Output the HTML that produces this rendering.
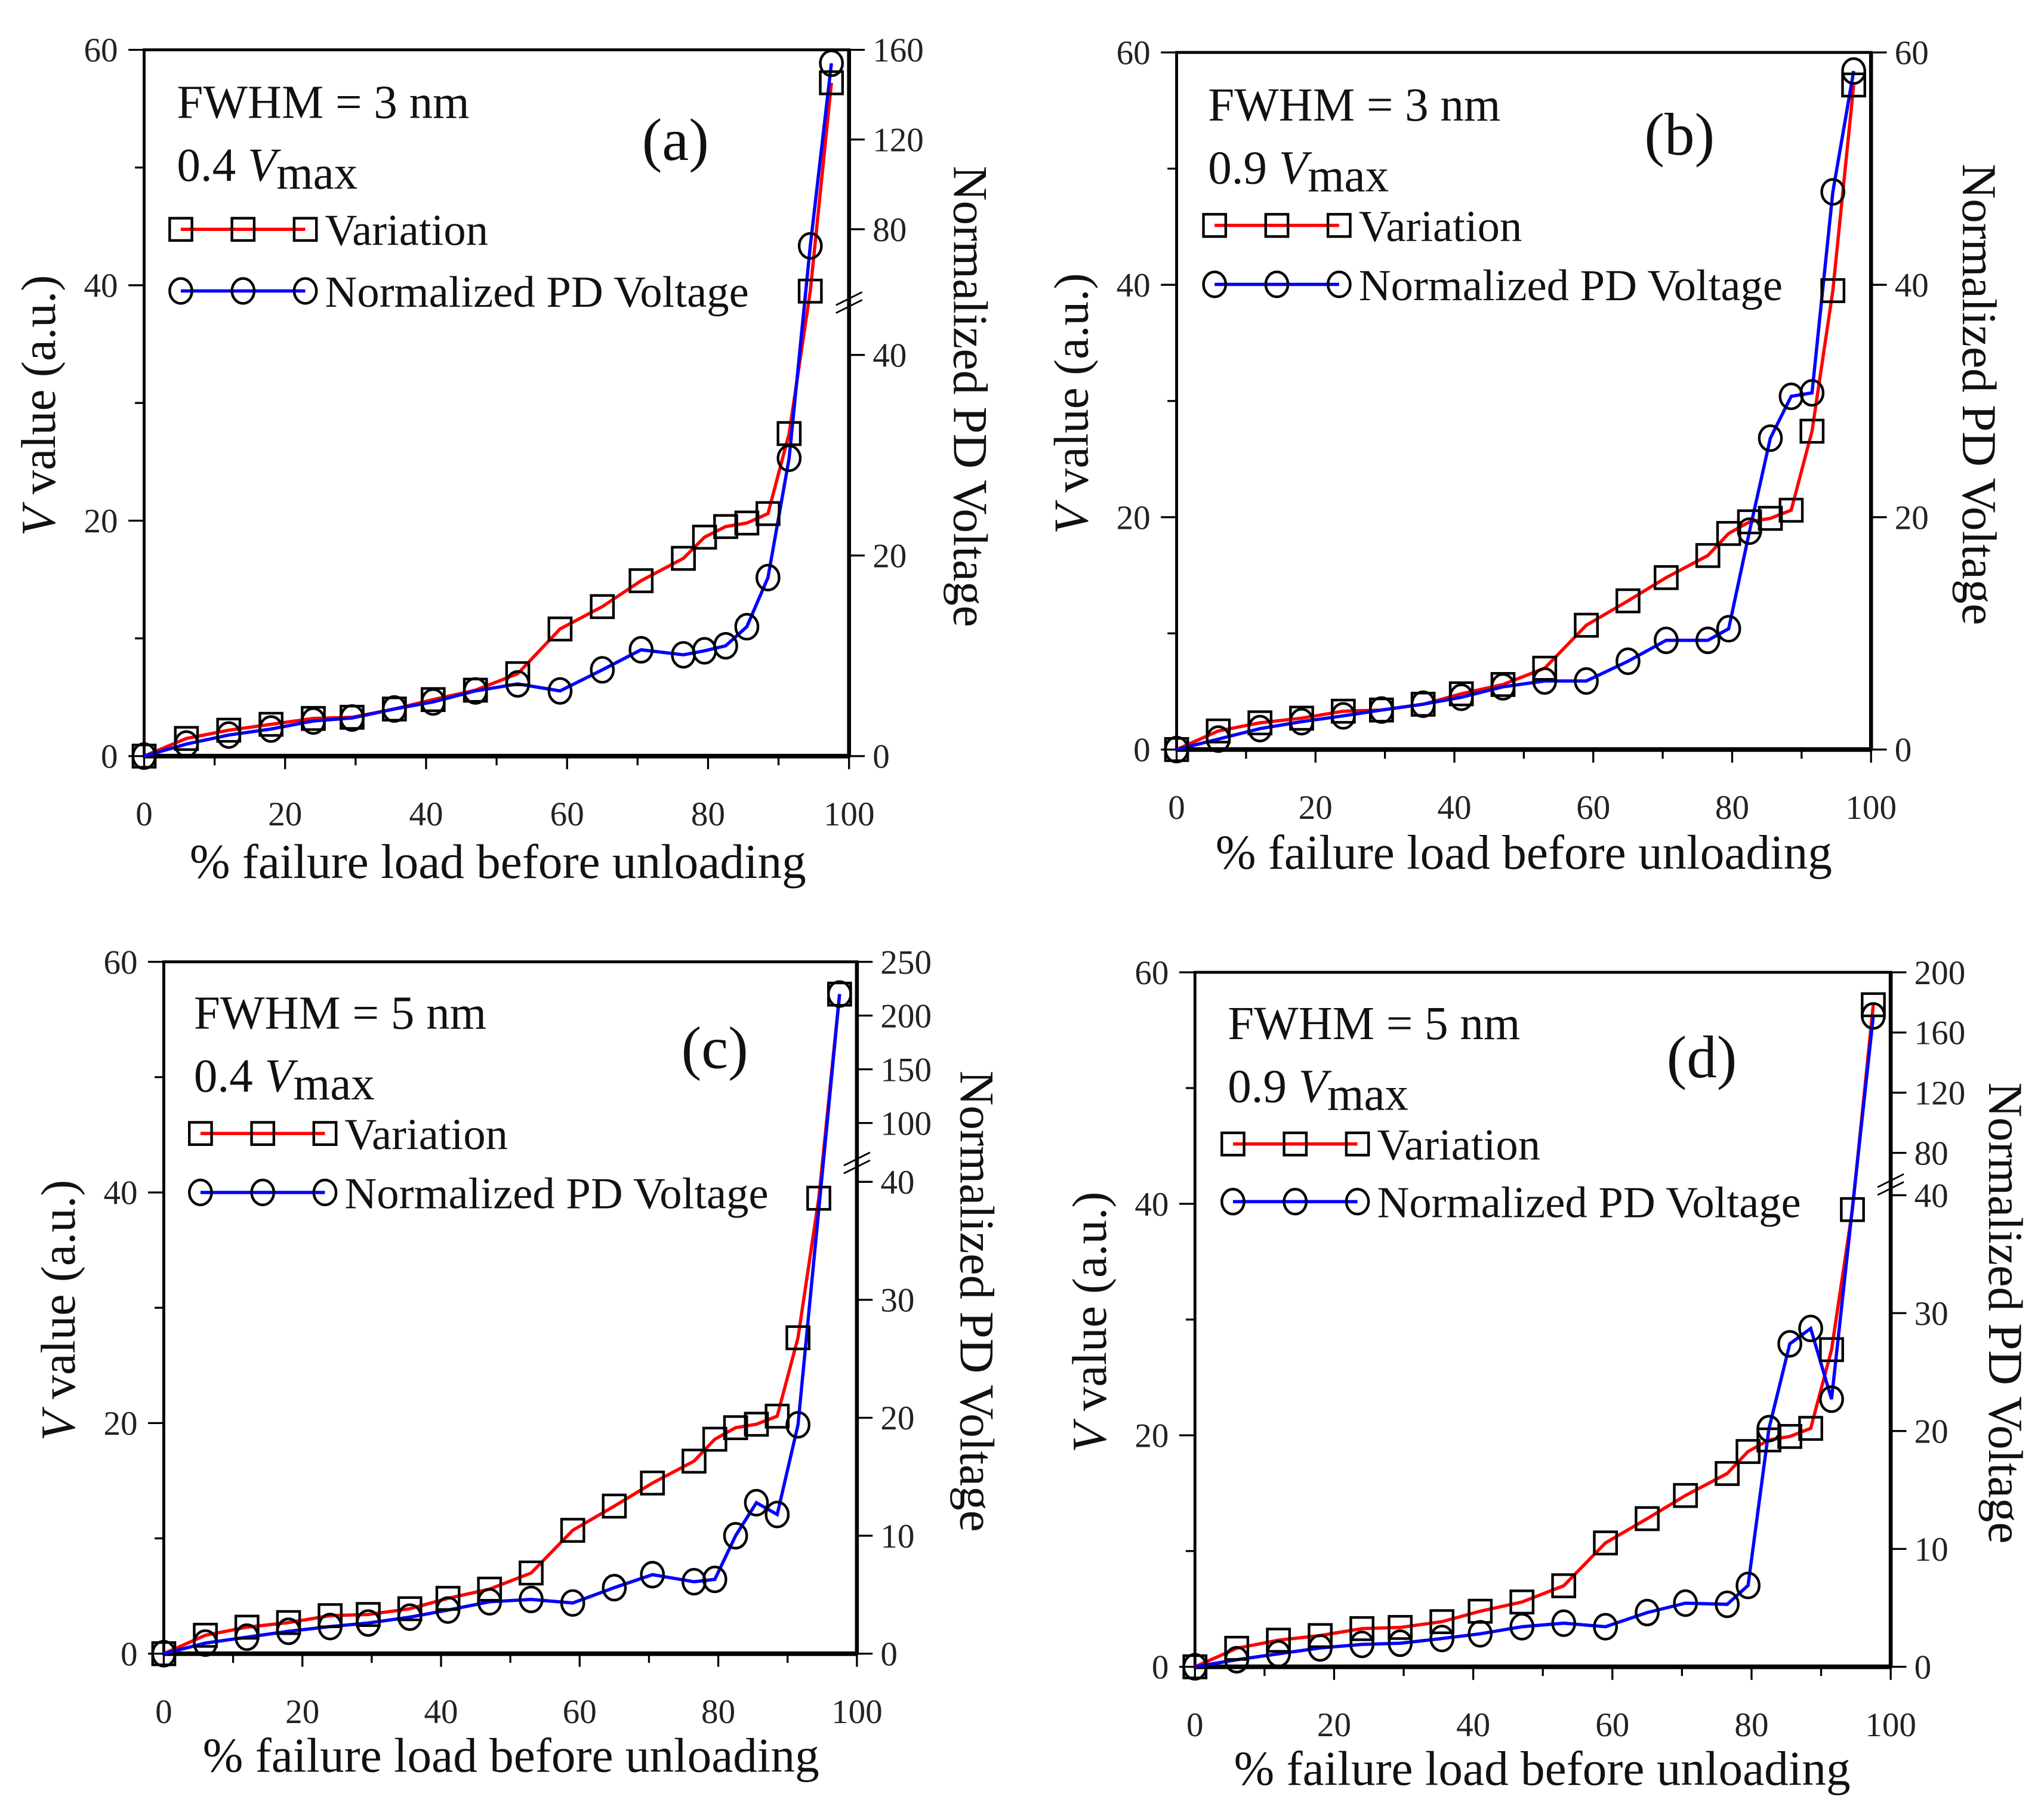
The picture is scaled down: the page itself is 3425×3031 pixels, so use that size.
<!DOCTYPE html>
<html><head><meta charset="utf-8"><style>
html,body{margin:0;padding:0;background:#fff;overflow:hidden;}
svg{display:block;font-family:"Liberation Serif",serif;}
</style></head><body>
<svg id="fig" xmlns="http://www.w3.org/2000/svg" width="3425" height="3031" viewBox="0 0 1560 1380.5"></svg>
<script>
// Shared x categories (% failure load)
const xVals = [0,6,12,18,24,29.5,35.5,41,47,53,59,65,70.5,76.5,79.5,82.5,85.5,88.5,91.5,94.5,97.5];
// Variation (left axis, V value)
const variationA = [0,1.5,2.2,2.7,3.2,3.3,4,4.8,5.6,7,10.8,12.7,14.9,16.8,18.6,19.5,19.8,20.6,27.4,39.5,57.2];
const variationB = [0,1.6,2.3,2.7,3.3,3.4,3.9,4.8,5.6,7,10.7,12.8,14.8,16.7,18.6,19.6,19.9,20.6,27.4,39.5,57.2];
const variationC = [0,1.6,2.3,2.7,3.3,3.4,3.9,4.8,5.6,7,10.7,12.8,14.8,16.7,18.6,19.6,19.9,20.6,27.4,39.5,57.2];
const variationD = [0,1.6,2.3,2.7,3.3,3.4,3.9,4.8,5.6,7,10.7,12.8,14.8,16.7,18.6,19.6,19.9,20.6,27.4,39.5,57.2];
// Normalized PD voltage (right axis)
const pdA = [0,1.2,2.1,2.7,3.5,3.8,4.7,5.4,6.5,7.2,6.5,8.6,10.6,10.1,10.5,11.0,12.9,17.8,29.7,74.7,154];
const pdB = [0,0.9,1.8,2.4,2.9,3.4,3.9,4.5,5.4,5.9,5.9,7.6,9.4,9.4,10.4,18.8,26.8,30.4,30.7,48,58.4];
const pdC = [0,0.9,1.4,1.9,2.3,2.6,3.1,3.7,4.4,4.6,4.3,5.6,6.7,6.1,6.3,10,12.8,11.8,19.4,null,220];
const pdD = [0,0.6,1.1,1.6,1.9,2,2.4,2.8,3.4,3.7,3.4,4.6,5.4,5.3,6.9,20.2,27.4,28.7,22.7,null,171];
// Tick labels
const xTicks = [0,20,40,60,80,100];
const leftTicks = [0,20,40,60];
const rightTicksA = [0,20,40,80,120,160];
const rightTicksB = [0,20,40,60];
const rightTicksC = [0,10,20,30,40,100,150,200,250];
const rightTicksD = [0,10,20,30,40,80,120,160,200];
// Right-axis piecewise breakpoints (values)
const rightBreaksA = [0,40,80,160];
const rightBreaksB = [0,60];
const rightBreaksC = [0,40,100,250];
const rightBreaksD = [0,40,80,200];

const NS = "http://www.w3.org/2000/svg";
const svg = document.getElementById('fig');
function mk(tag, attrs, parent){
  const e = document.createElementNS(NS, tag);
  for (const k in attrs) e.setAttribute(k, attrs[k]);
  (parent||svg).appendChild(e);
  return e;
}

const panels = [
 {id:'a', L:110,R:648,T:38,B:577, rFrac:[0,0.568,0.746,1], vari:variationA, pd:pdA, rt:rightTicksA, rb:rightBreaksA, brk:true,
  fw:'FWHM = 3 nm', vm:'0.4', tx:135, ty:90, lx:138, ly1:175, ly2:222, pl:'(a)', plx:490, ply:122,
  ytx:30, xtx:380, xty:670, rtx:740},
 {id:'b', L:898,R:1428,T:40,B:572, rFrac:[0,1], vari:variationB, pd:pdB, rt:rightTicksB, rb:rightBreaksB, brk:false,
  fw:'FWHM = 3 nm', vm:'0.9', tx:922, ty:92, lx:927, ly1:172, ly2:217, pl:'(b)', plx:1255, ply:118,
  ytx:818, xtx:1163, xty:663, rtx:1510},
 {id:'c', L:125,R:654,T:734,B:1262, rFrac:[0,0.682,0.767,1], vari:variationC, pd:pdC, rt:rightTicksC, rb:rightBreaksC, brk:true,
  fw:'FWHM = 5 nm', vm:'0.4', tx:148, ty:785, lx:153, ly1:865, ly2:910, pl:'(c)', plx:520, ply:815,
  ytx:45, xtx:390, xty:1352, rtx:745},
 {id:'d', L:912,R:1443,T:742,B:1272, rFrac:[0,0.679,0.740,1], vari:variationD, pd:pdD, rt:rightTicksD, rb:rightBreaksD, brk:true,
  fw:'FWHM = 5 nm', vm:'0.9', tx:937, ty:793, lx:941, ly1:873, ly2:917, pl:'(d)', plx:1272, ply:822,
  ytx:832, xtx:1177, xty:1362, rtx:1530}
];

function square(g,x,y){
  const s = mk('rect',{x:x-8.5,y:y-8.5,width:17,height:17,fill:'none',stroke:'#000','stroke-width':2},g);
  
  
}
function circ(g,x,y){
  const c = mk('ellipse',{cx:x,cy:y,rx:8.5,ry:9.5,fill:'none',stroke:'#000','stroke-width':2},g);
  
  
}

panels.forEach(p=>{
  const g = mk('g',{});
  
  
  const H = p.B-p.T;
  const xs = v => p.L + (p.R-p.L)*v/100;
  const yl = v => p.B - H*v/60;
  const yr = v => {
    const b = p.rb;
    let i = 0;
    while (i < b.length-2 && v > b[i+1]) i++;
    const y0 = p.B - H*p.rFrac[i];
    const y1 = p.B - H*p.rFrac[i+1];
    return y0 + (y1-y0)*(v-b[i])/(b[i+1]-b[i]);
  };
  const fr = mk('rect',{x:p.L,y:p.T,width:p.R-p.L,height:H,fill:'none',stroke:'#000','stroke-width':2.2},g);
  
  
  mk('line',{x1:p.L,y1:p.B,x2:p.R,y2:p.B,stroke:'#000','stroke-width':3.5},g);
  mk('line',{x1:p.R,y1:p.T,x2:p.R,y2:p.B,stroke:'#000','stroke-width':3},g);
  for (let v=0; v<=100; v+=10){
    mk('line',{x1:xs(v),y1:p.B,x2:xs(v),y2:p.B+(v%20===0?10:7),stroke:'#000','stroke-width':1.5},g);
  }
  xTicks.forEach(v=>{
    const t = mk('text',{x:xs(v),y:p.B+53,'font-size':26,'text-anchor':'middle',fill:'#222'},g);
    t.textContent = v;
    
    
  });
  for (let v=0; v<=60; v+=10){
    mk('line',{x1:p.L,y1:yl(v),x2:p.L-(v%20===0?12:7),y2:yl(v),stroke:'#000','stroke-width':1.5},g);
  }
  leftTicks.forEach(v=>{
    const t = mk('text',{x:p.L-20,y:yl(v)+9,'font-size':26,'text-anchor':'end',fill:'#222'},g);
    t.textContent = v;
    
    
  });
  p.rt.forEach(v=>{
    mk('line',{x1:p.R,y1:yr(v),x2:p.R+12,y2:yr(v),stroke:'#000','stroke-width':1.5},g);
    const t = mk('text',{x:p.R+18,y:yr(v)+9,'font-size':26,'text-anchor':'start',fill:'#222'},g);
    t.textContent = v;
    
    
  });
  if (p.brk){
    const yb = (yr(p.rb[1]) + yr(p.rb[2]))/2 + 6;
    mk('line',{x1:p.R-10,y1:yb+4,x2:p.R+10,y2:yb-6,stroke:'#000','stroke-width':1.3},g);
    mk('line',{x1:p.R-10,y1:yb+10,x2:p.R+10,y2:yb,stroke:'#000','stroke-width':1.3},g);
  }
  const redPts = xVals.map((x,i)=>xs(x)+','+yl(p.vari[i])).join(' ');
  const rl = mk('polyline',{points:redPts,fill:'none',stroke:'#ff0000','stroke-width':2.5},g);
  
  
  const bluePts = xVals.map((x,i)=>p.pd[i]==null?null:xs(x)+','+yr(p.pd[i])).filter(s=>s).join(' ');
  const bl = mk('polyline',{points:bluePts,fill:'none',stroke:'#0000ff','stroke-width':2.5},g);
  
  
  xVals.forEach((x,i)=>square(g,xs(x),yl(p.vari[i])));
  xVals.forEach((x,i)=>{ if(p.pd[i]!=null) circ(g,xs(x),yr(p.pd[i])); });
  const t1 = mk('text',{x:p.tx,y:p.ty,'font-size':36,fill:'#111'},g);
  t1.textContent = p.fw;
  
  
  const t2 = mk('text',{x:p.tx,y:p.ty+48,'font-size':36,fill:'#111'},g);
  t2.innerHTML = p.vm+' <tspan font-style="italic">V</tspan><tspan dy="6">max</tspan>';
  
  
  const t3 = mk('text',{x:p.plx,y:p.ply,'font-size':46,fill:'#111'},g);
  t3.textContent = p.pl;
  
  
  const lg = mk('g',{},g);
  
  
  const lx = p.lx;
  mk('line',{x1:lx,y1:p.ly1,x2:lx+95,y2:p.ly1,stroke:'#ff0000','stroke-width':2.5},lg);
  [0,47.5,95].forEach(d=>square(lg,lx+d,p.ly1));
  mk('line',{x1:lx,y1:p.ly2,x2:lx+95,y2:p.ly2,stroke:'#0000ff','stroke-width':2.5},lg);
  [0,47.5,95].forEach(d=>circ(lg,lx+d,p.ly2));
  const l1 = mk('text',{x:lx+110,y:p.ly1+12,'font-size':34,fill:'#111'},lg);
  l1.textContent = 'Variation';
  
  
  const l2 = mk('text',{x:lx+110,y:p.ly2+12,'font-size':34,fill:'#111'},lg);
  l2.textContent = 'Normalized PD Voltage';
  
  
  const cy = (p.T+p.B)/2;
  const yt = mk('text',{x:0,y:0,'font-size':37,'text-anchor':'middle',fill:'#111',transform:'translate('+(p.ytx+12)+','+(cy+2)+') rotate(-90)'},g);
  yt.innerHTML = '<tspan font-style="italic">V</tspan> value (a.u.)';
  
  
  const rtt = mk('text',{x:0,y:0,'font-size':37,'text-anchor':'middle',fill:'#111',transform:'translate('+(p.rtx-12)+','+(cy-5)+') rotate(90)'},g);
  rtt.textContent = 'Normalized PD Voltage';
  
  
  const xt = mk('text',{x:p.xtx,y:p.xty,'font-size':37,'text-anchor':'middle',fill:'#111'},g);
  xt.textContent = '% failure load before unloading';
  
  
});
</script>
</body></html>
